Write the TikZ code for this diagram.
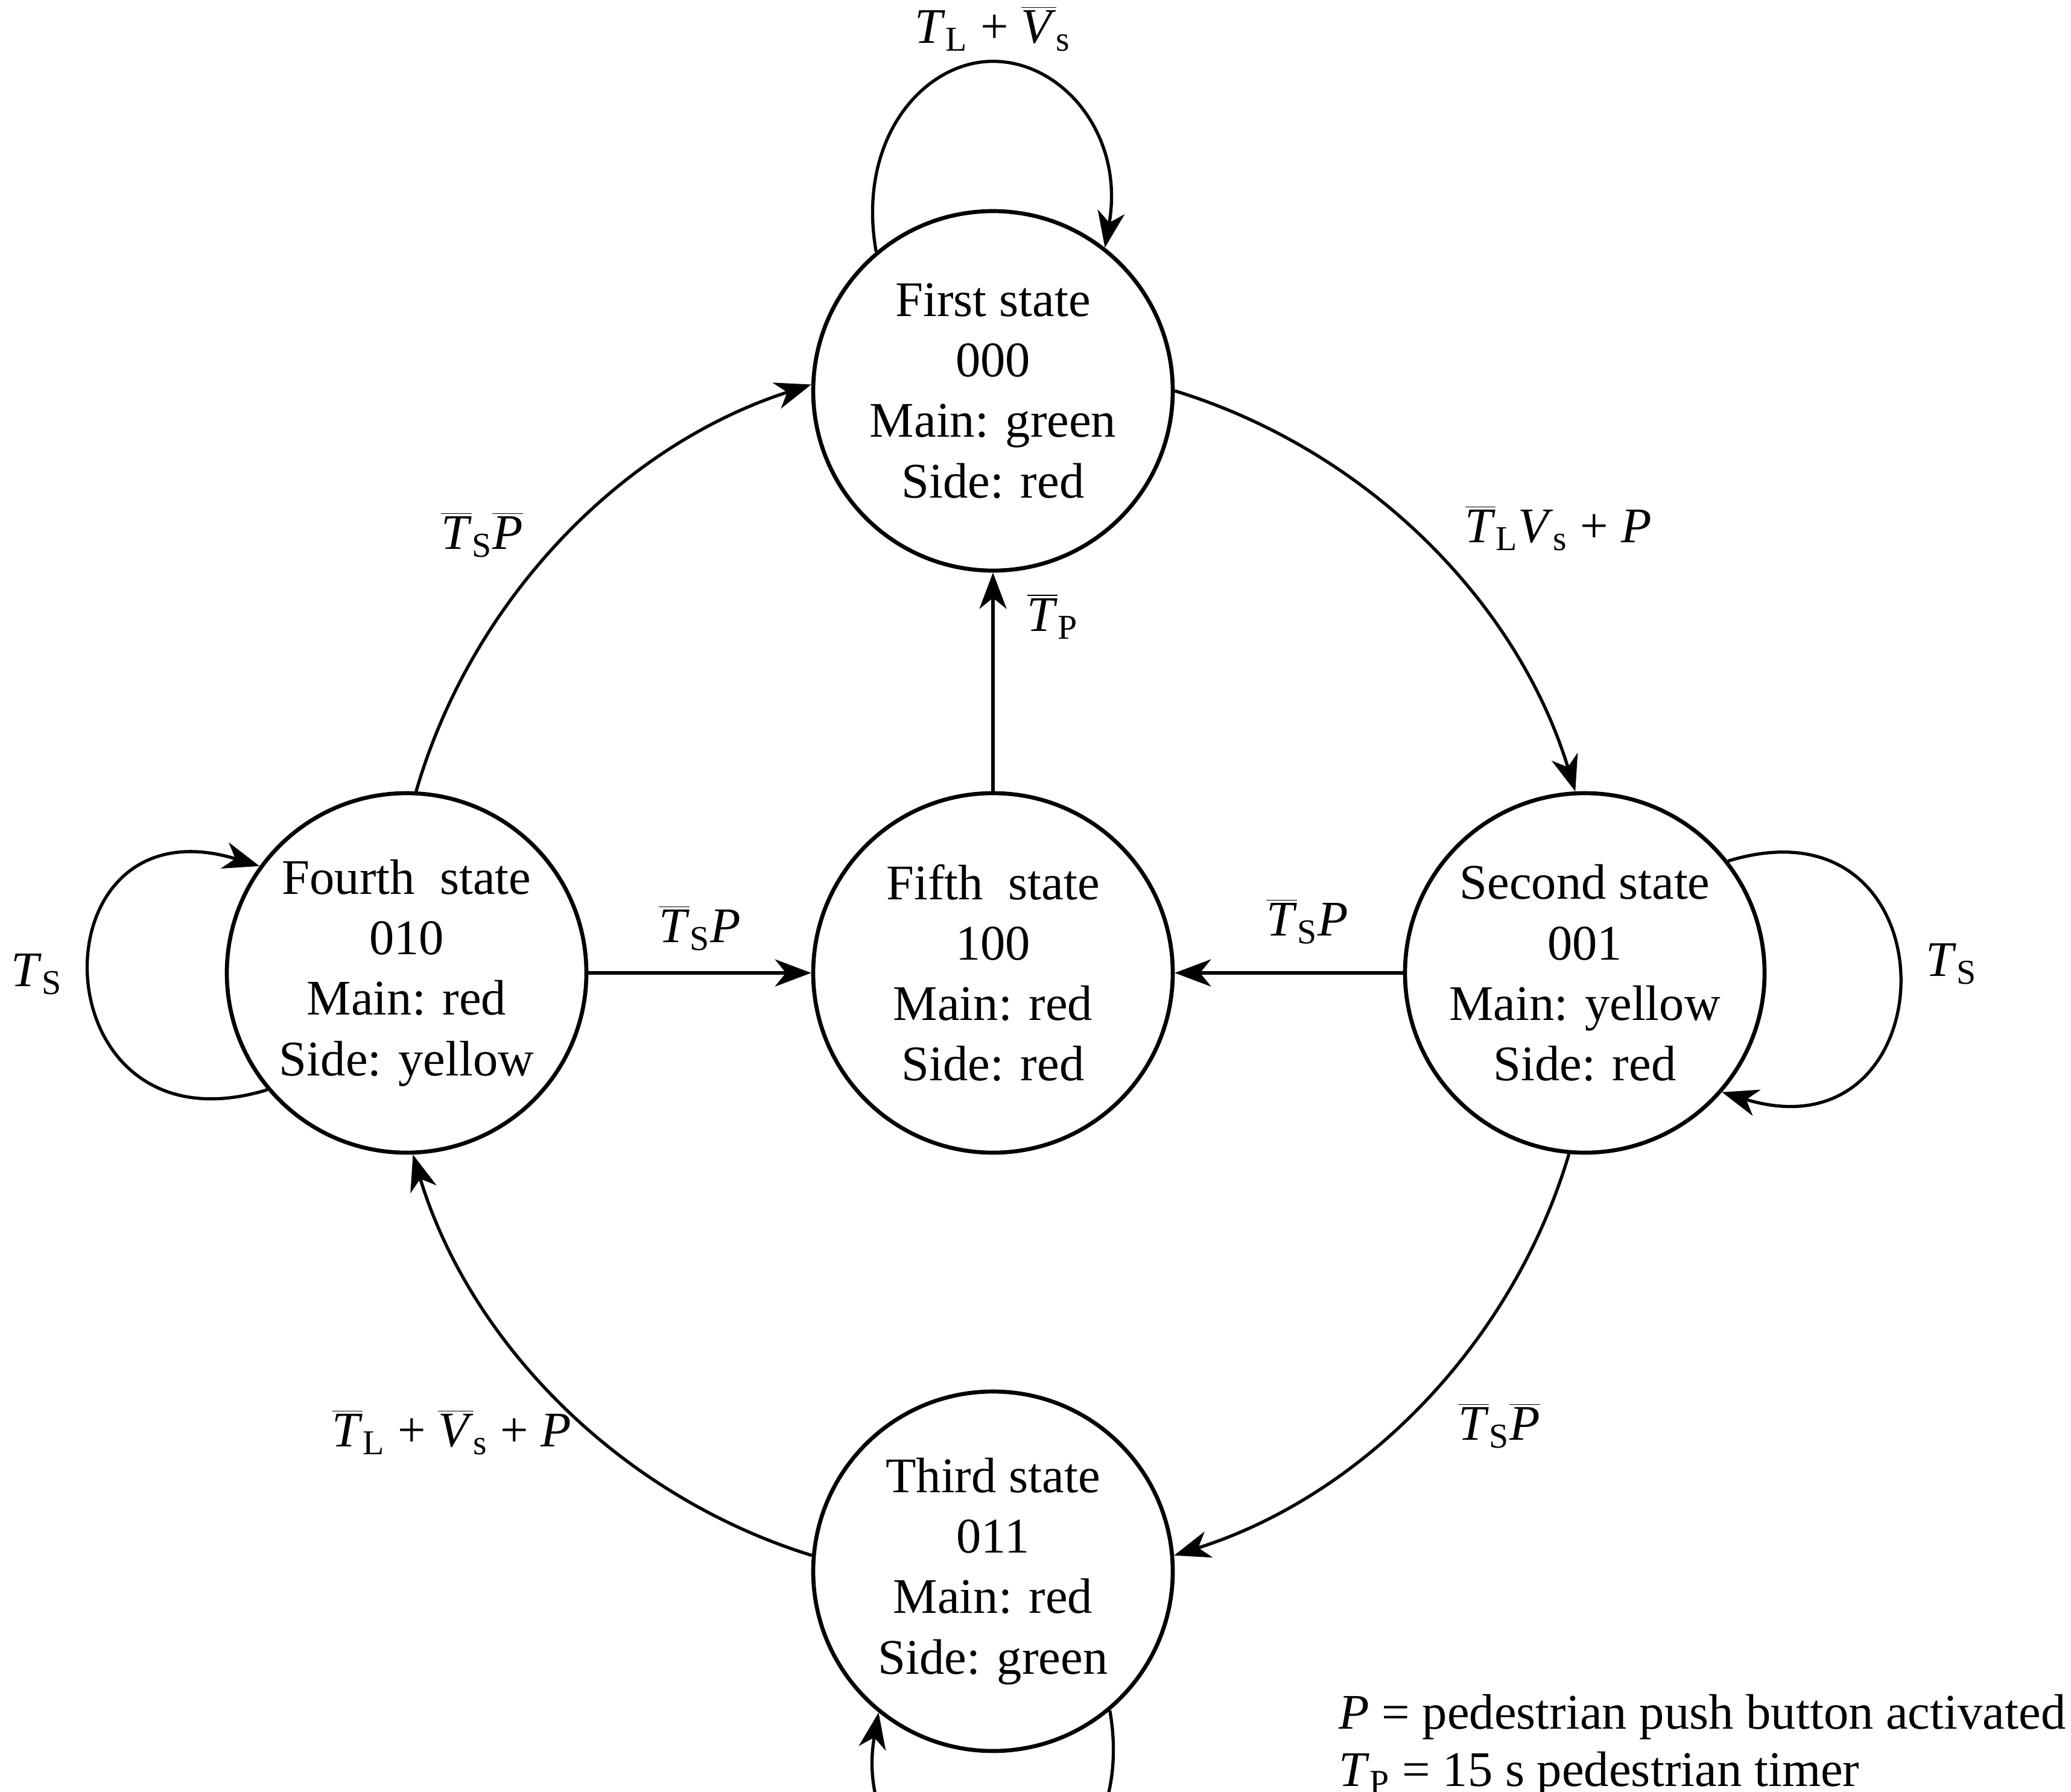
\documentclass[tikz,border=0pt]{standalone}
\usepackage{fontspec}
\setmainfont{Liberation Serif}
\usetikzlibrary{arrows.meta}

\newcommand{\nbar}[1]{\ensuremath{\overline{\mbox{\textit{#1}}}}}
\newcommand{\sub}[1]{\textsubscript{#1}}

\tikzset{
  lightstate/.style={circle, draw, line width=1.9pt, minimum size=5.96cm, inner sep=0pt, align=center},
  trans/.style={->, line width=1.5pt},
  ring/.style={bend left=28, looseness=0.9}
}

\begin{document}
\begin{tikzpicture}[font=\fontsize{23.5}{28.5}\selectfont, >={Stealth[length=6mm,width=4.5mm,inset=1.8mm]}]
    \useasboundingbox (0,0) rectangle (34.33,-29.70);
    \clip (0,0) rectangle (34.33,-29.70); % picture is cut at the bottom

    % states
    \node[lightstate] (first) at (16.46,-6.48) {First state\\000\\Main: green\\Side: red};
    \node[lightstate] (second) at (26.27,-16.13) {Second state\\001\\Main: yellow\\Side: red};
    \node[lightstate] (third) at (16.46,-26.05) {Third state\\011\\Main: red\\Side: green};
    \node[lightstate] (fourth) at (6.74,-16.13) {Fourth~~state\\010\\Main: red\\Side: yellow};
    \node[lightstate] (fifth) at (16.46,-16.13) {Fifth~~state\\100\\Main: red\\Side: red};

    % outer ring
    \draw[trans] (first.east) to[ring] (second.93);
    \draw[trans] (second.265) to[ring] (third.5);
    \draw[trans] (third.175) to[ring] (fourth.272);
    \draw[trans] (fourth.87) to[ring] (first.178);

    % into the fifth state and back
    \draw[trans] (fourth.east) -- (fifth.west);
    \draw[trans] (second.west) -- (fifth.east);
    \draw[trans] (fifth.north) -- (first.south);

    % self loops
    \draw[trans] (first.130) .. controls +(100:1.9) and +(180:1.15) .. ([yshift=2.45cm]first.north)
                             .. controls +(0:1.15) and +(80:1.9) .. (first.52);
    \draw[trans] (fourth.220) .. controls +(197:4) and +(163:4) .. (fourth.144);
    \draw[trans] (second.38) .. controls +(17:4) and +(-17:4) .. (second.-41);
    \draw[trans] (third.310) .. controls +(-80:1.9) and +(0:1.15) .. ([yshift=-2.45cm]third.south)
                             .. controls +(180:1.15) and +(-100:1.9) .. (third.231);

    % conditions
    \node (lfirst) at (16.46,-0.48) {\textit{T}\sub{L} + \nbar{V}\sub{s}};
    \node (lfourth) at (0.61,-16.15) {\textit{T}\sub{S}};
    \node (lsecond) at (32.35,-15.98) {\textit{T}\sub{S}};
    \node (lonetwo) at (25.83,-8.76) {\nbar{T}\sub{L}\textit{V}\sub{s} + \textit{P}};
    \node (ltwothree) at (24.85,-23.64) {\nbar{T}\sub{S}\nbar{P}};
    \node (lthreefour) at (7.49,-23.75) {\nbar{T}\sub{L} + \nbar{V}\sub{s} + \textit{P}};
    \node (lfourone) at (7.99,-8.87) {\nbar{T}\sub{S}\nbar{P}};
    \node (lfourfive) at (11.60,-15.39) {\nbar{T}\sub{S}\textit{P}};
    \node (ltwofive) at (21.67,-15.28) {\nbar{T}\sub{S}\textit{P}};
    \node (lfiveone) at (17.45,-10.22) {\nbar{T}\sub{P}};

    % legend
    \node[anchor=west, align=left, font=\fontsize{23.5}{26.8}\selectfont] (legend) at (22.07,-28.94)
      {\textit{P} = pedestrian push button activated\\\textit{T}\sub{P} = 15 s pedestrian timer};
\end{tikzpicture}
\end{document}
